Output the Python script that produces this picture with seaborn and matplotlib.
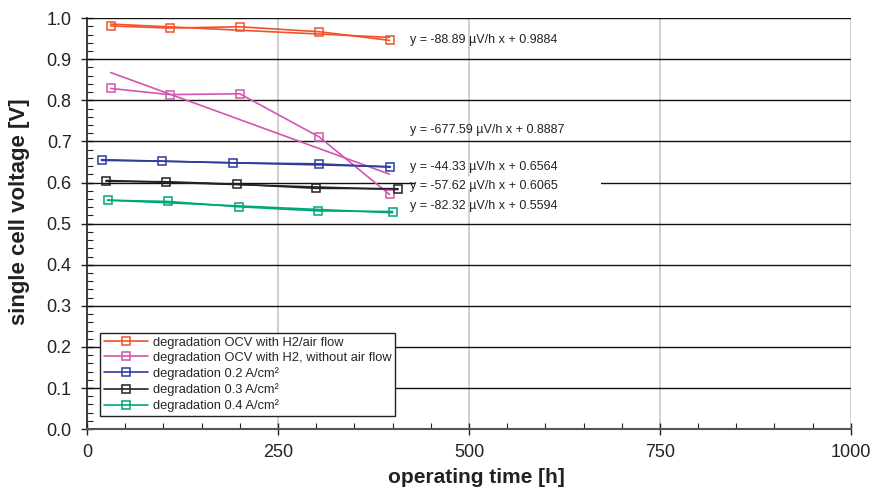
import matplotlib
matplotlib.use("Agg")
import matplotlib.pyplot as plt
import seaborn as sns
import pandas as pd
import numpy as np
from matplotlib.ticker import MultipleLocator
from matplotlib.patches import Rectangle
from matplotlib.lines import Line2D

sns.set_theme(style="white")
plt.rcParams['font.family'] = ['Liberation Sans', 'DejaVu Sans']

# ---- data ----
series_names = [
    "degradation OCV with H2/air flow",
    "degradation OCV with H2, without air flow",
    "degradation 0.2 A/cm²",
    "degradation 0.3 A/cm²",
    "degradation 0.4 A/cm²",
]
colors = ["#F0522A", "#D455B0", "#2E3C9C", "#222222", "#00A67A"]

t_ocv_air = [31, 108, 200, 304, 396]
v_ocv_air = [0.981, 0.976, 0.979, 0.967, 0.946]
t_ocv_noair = [31, 108, 200, 304, 396]
v_ocv_noair = [0.829, 0.814, 0.816, 0.711, 0.571]
t_02 = [19, 98, 191, 304, 397]
v_02 = [0.654, 0.652, 0.648, 0.6455, 0.6375]
t_03 = [25, 103, 196, 300, 407]
v_03 = [0.603, 0.602, 0.596, 0.586, 0.585]
t_04 = [27, 106, 199, 303, 400]
v_04 = [0.557, 0.554, 0.541, 0.531, 0.5295]

# trend line equations (slope in µV/h, intercept in V)
slopes_uV = [-88.89, -677.59, -44.33, -57.62, -82.32]
intercepts = [0.9884, 0.8887, 0.6564, 0.6065, 0.5594]
eq_labels = [
    "y = -88.89 µV/h x + 0.9884",
    "y = -677.59 µV/h x + 0.8887",
    "y = -44.33 µV/h x + 0.6564",
    "y = -57.62 µV/h x + 0.6065",
    "y = -82.32 µV/h x + 0.5594",
]
eq_label_y = [0.948, 0.727, 0.638, 0.592, 0.544]

ts = [t_ocv_air, t_ocv_noair, t_02, t_03, t_04]
vs = [v_ocv_air, v_ocv_noair, v_02, v_03, v_04]

fig = plt.figure(figsize=(8.71, 4.91), dpi=100)
ax = fig.add_axes([0.0999, 0.126, 0.877, 0.837])

# grid
for yv in np.arange(0.1, 1.01, 0.1):
    ax.axhline(yv, color="#111111", lw=1.0, zorder=1)
for xv in [250, 500, 750, 1000]:
    ax.axvline(xv, color="#c8c8c8", lw=1.2, zorder=0.5)

# white gap behind equations at 0.6 line
ax.add_patch(Rectangle((0.43, 0.585), 0.243, 0.03, transform=ax.transAxes,
                       facecolor="white", edgecolor="none", zorder=1.5))

handles = []
for name, t, v, c in zip(series_names, ts, vs, colors):
    d = pd.DataFrame({"time": t, "voltage": v})
    sns.lineplot(data=d, x="time", y="voltage", color=c, marker="s", markersize=5.5,
                 markerfacecolor="none", markeredgecolor=c, markeredgewidth=1.1,
                 linewidth=1.2, ax=ax, zorder=3, legend=False)
    handles.append(Line2D([0], [0], color=c, lw=1.2, marker="s", markersize=5.5,
                          markerfacecolor="none", markeredgecolor=c, markeredgewidth=1.1))

# trend lines
for t, s, b, c in zip(ts, slopes_uV, intercepts, colors):
    xx = np.array([t[0], t[-1]])
    ax.plot(xx, s * 1e-6 * xx + b, color=c, lw=1.2, zorder=2.5)

for lab, yl in zip(eq_labels, eq_label_y):
    ax.text(423, yl, lab, fontsize=9, color="#222222", va="center", ha="left", zorder=4)

ax.set_xlim(0, 1000)
ax.set_ylim(0, 1.0)
ax.xaxis.set_major_locator(MultipleLocator(250))
ax.xaxis.set_minor_locator(MultipleLocator(50))
ax.yaxis.set_major_locator(MultipleLocator(0.1))
ax.yaxis.set_minor_locator(MultipleLocator(0.02))
ax.yaxis.set_major_formatter(matplotlib.ticker.FormatStrFormatter("%.1f"))
ax.tick_params(axis="both", which="major", direction="inout", length=8, width=1.0,
               color="#222222", labelsize=13, labelcolor="#222222", pad=7)
ax.tick_params(axis="both", which="minor", direction="in", length=4, width=0.8,
               color="#222222")
ax.tick_params(left=True, bottom=True, which="both")

for sp in ["top", "right"]:
    ax.spines[sp].set_visible(False)
ax.spines["left"].set_color("#222222")
ax.spines["bottom"].set_color("#555555")
ax.spines["bottom"].set_linewidth(1.5)

ax.set_xlabel("operating time [h]", fontsize=15, fontweight="bold", color="#222222")
ax.set_ylabel("single cell voltage [V]", fontsize=16, fontweight="bold", color="#222222")
ax.xaxis.set_label_coords(0.51, -0.095)
ax.yaxis.set_label_coords(-0.075, 0.53)

leg = ax.legend(handles, series_names, loc="lower left", bbox_to_anchor=(0.017, 0.032),
                fontsize=9.3, frameon=True, fancybox=False, edgecolor="#222222",
                framealpha=1, borderpad=0.3, labelspacing=0.25, handlelength=3.4,
                handletextpad=0.4, borderaxespad=0)
leg.get_frame().set_linewidth(1.0)
leg.set_zorder(5)

fig.savefig("out.png", dpi=100)
